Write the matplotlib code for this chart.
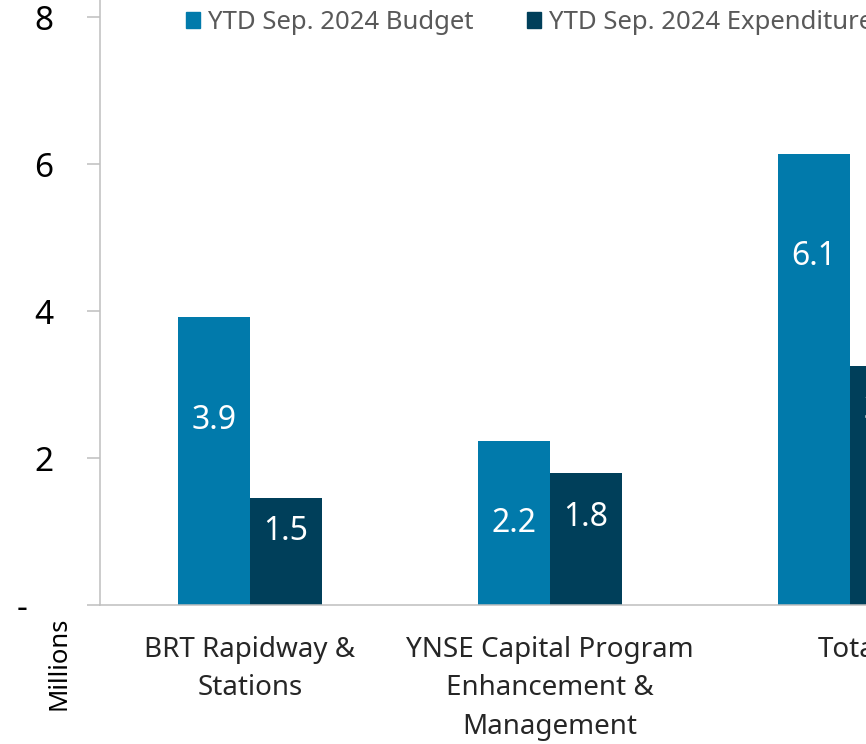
import matplotlib
matplotlib.use("Agg")
import matplotlib.pyplot as plt
import numpy as np
from matplotlib.patches import Patch

plt.rcParams['font.family'] = ['Noto Sans', 'DejaVu Sans']

categories = ["BRT Rapidway &\nStations", "YNSE Capital Program\nEnhancement &\nManagement", "Total"]
budget = [3.92, 2.23, 6.14]
expenditure = [1.46, 1.80, 3.25]
series_names = ["YTD Sep. 2024 Budget", "YTD Sep. 2024 Expenditure"]
y_ticks = [0, 2, 4, 6, 8]

c_budget = "#017aab"
c_exp = "#003f5a"
axis_grey = "#bfbfbf"

fig = plt.figure(figsize=(8.66, 7.44), dpi=100)
fig.patch.set_facecolor("white")
ax = fig.add_axes([100/866, (744-605.3)/744, 900/866, 605.3/744])

x = np.arange(len(categories))
w = 0.24
b1 = ax.bar(x - w/2, budget, w, color=c_budget, zorder=2)
b2 = ax.bar(x + w/2, expenditure, w, color=c_exp, zorder=2)

def label_y(v, depth):
    return max(1.0, v / 2, v - depth)

for bars, vals, depth in ((b1, budget, 1.4), (b2, expenditure, 0.6)):
    for r, v in zip(bars, vals):
        ax.text(r.get_x() + r.get_width()/2, label_y(v, depth), f"{v:.1f}",
                ha="center", va="center", color="white", fontsize=23)

ax.set_xlim(-0.5, 2.5)
ax.set_ylim(0, 8.235)
ax.set_yticks(y_ticks)
ax.set_yticklabels(["-   " if t == 0 else str(t) for t in y_ticks])
ax.set_xticks(x)
ax.set_xticklabels(categories, fontsize=20, color="#262626", linespacing=1.5)
ax.tick_params(axis="x", length=0, pad=22)
ax.tick_params(axis="y", length=9.4, width=1.1, color=axis_grey, labelsize=24, pad=24)
for s in ("top", "right"):
    ax.spines[s].set_visible(False)
for s in ("left", "bottom"):
    ax.spines[s].set_color(axis_grey)
    ax.spines[s].set_linewidth(1.1)
ax.set_facecolor("white")

fig.text(59/866, 1 - 663/744, "Millions", rotation=90, ha="center", va="center",
         fontsize=18.5, color="black")

handles = [Patch(color=c_budget), Patch(color=c_exp)]
fig.legend(handles, series_names, loc="upper left", bbox_to_anchor=(186/866, 1 - 10/744),
           ncol=2, frameon=False, fontsize=18.5, labelcolor="#595959",
           handlelength=0.55, handleheight=0.55, handletextpad=0.3,
           columnspacing=2.1, borderpad=0, borderaxespad=0)

fig.savefig("out.png", dpi=100)
